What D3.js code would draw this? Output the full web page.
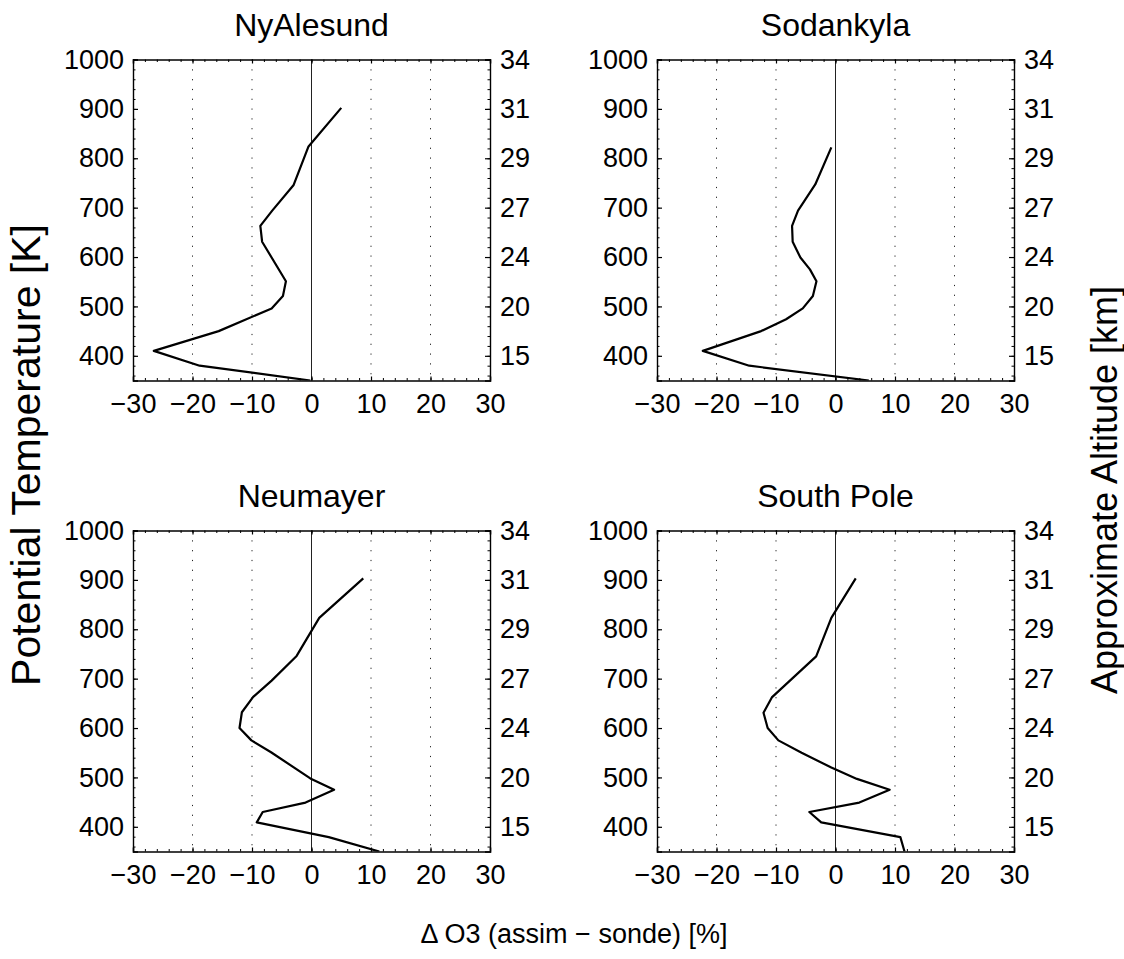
<!DOCTYPE html>
<html>
<head>
<meta charset="utf-8">
<script src="https://cdn.jsdelivr.net/npm/d3@7"></script>
<style>
  html, body { margin: 0; padding: 0; background: #fff; }
  svg { display: block; font-family: "Liberation Sans", Arial, Helvetica, sans-serif; }
</style>
</head>
<body>
<svg id="chart" width="1124" height="959"></svg>
<script>
// Station names, in panel order (row by row)
const stations = ["NyAlesund", "Sodankyla", "Neumayer", "South Pole"];

// Potential temperature levels [K] of each profile
const thetaNyAlesund = [902, 824, 746, 694, 663, 631, 551, 521, 496, 450, 410, 380, 350];
const thetaSodankyla = [822, 747, 694, 663, 631, 599, 575, 551, 521, 496, 474, 450, 410, 380, 350];
const thetaNeumayer  = [903, 823, 746, 696, 663, 632, 600, 575, 551, 498, 475, 449, 430, 409, 379, 350];
const thetaSouthPole = [903, 823, 745, 662, 631, 600, 575, 550, 520, 497, 475, 449, 430, 409, 379, 350];

// Ozone difference, assimilation minus sonde [%]
const dO3NyAlesund = [5.0, -0.5, -3.0, -6.6, -8.6, -8.3, -4.3, -4.8, -6.7, -15.6, -26.5, -18.8, -0.2];
const dO3Sodankyla = [-0.7, -3.4, -6.3, -7.3, -7.2, -5.9, -4.3, -3.2, -3.8, -5.5, -8.3, -12.5, -22.3, -14.5, 5.6];
const dO3Neumayer  = [8.7, 1.3, -2.5, -6.7, -9.8, -11.7, -12.1, -10.1, -6.8, -0.2, 3.8, -1.0, -8.2, -9.2, 2.9, 11.4];
const dO3SouthPole = [3.4, -0.7, -3.25, -10.7, -12.1, -11.4, -9.6, -5.7, -0.7, 3.6, 9.1, 4.0, -4.4, -2.4, 10.9, 11.6];

// Axis ticks
const xTicks = [-30, -20, -10, 0, 10, 20, 30];
const thetaTicks = [400, 500, 600, 700, 800, 900, 1000];
const altitudeLabels = ["15", "20", "24", "27", "29", "31", "34"];

const profiles = [
  { theta: thetaNyAlesund, dO3: dO3NyAlesund },
  { theta: thetaSodankyla, dO3: dO3Sodankyla },
  { theta: thetaNeumayer,  dO3: dO3Neumayer },
  { theta: thetaSouthPole, dO3: dO3SouthPole }
];

const svg = d3.select("#chart");

// Panel layout
const panelW = 357, panelH = 321;
const panelX = [133, 657];
const panelY = [59.5, 530.5];

const x = d3.scaleLinear().domain([-30, 30]).range([0, panelW]);
const y = d3.scaleLinear().domain([350, 1000]).range([panelH, 0]);

const minorX = d3.range(-30, 30.01, 2);
const minorY = d3.range(360, 1000.01, 20);

const tickFont = 27;
const fmt = d3.format("d");

stations.forEach((name, i) => {
  const col = i % 2, row = Math.floor(i / 2);
  const g = svg.append("g")
    .attr("transform", `translate(${panelX[col]},${panelY[row]})`);

  // dotted vertical grid lines
  g.selectAll("line.grid")
    .data(xTicks.filter(v => v !== 0 && Math.abs(v) !== 30))
    .join("line")
    .attr("class", "grid")
    .attr("x1", d => x(d)).attr("x2", d => x(d))
    .attr("y1", 0).attr("y2", panelH)
    .attr("stroke", "#222")
    .attr("stroke-width", 1)
    .attr("stroke-dasharray", "1.2,8.6");

  // zero line
  g.append("line")
    .attr("x1", x(0)).attr("x2", x(0))
    .attr("y1", 0).attr("y2", panelH)
    .attr("stroke", "#222")
    .attr("stroke-width", 1);

  // minor ticks on all four sides
  const minorAxes = [
    d3.axisBottom(x).tickValues(minorX).tickSize(-2.5).tickFormat(""),
    d3.axisTop(x).tickValues(minorX).tickSize(-2.5).tickFormat(""),
    d3.axisLeft(y).tickValues(minorY).tickSize(-2.5).tickFormat(""),
    d3.axisRight(y).tickValues(minorY).tickSize(-2.5).tickFormat("")
  ];
  const minorPos = [`translate(0,${panelH})`, "translate(0,0)", "translate(0,0)", `translate(${panelW},0)`];
  minorAxes.forEach((ax, k) => {
    const a = g.append("g").attr("transform", minorPos[k]).call(ax);
    a.select(".domain").remove();
    a.selectAll("line").attr("stroke", "#000").attr("stroke-width", 1);
  });

  // profile line
  const p = profiles[i];
  const pts = p.theta.map((t, k) => [p.dO3[k], t]);
  const clipId = "clip" + i;
  g.append("clipPath").attr("id", clipId)
    .append("rect").attr("width", panelW).attr("height", panelH);
  g.append("path")
    .datum(pts)
    .attr("clip-path", `url(#${clipId})`)
    .attr("fill", "none")
    .attr("stroke", "#000")
    .attr("stroke-width", 2.2)
    .attr("stroke-linejoin", "round")
    .attr("d", d3.line().x(d => x(d[0])).y(d => y(d[1])));

  // major axes with labels
  const xb = g.append("g").attr("transform", `translate(0,${panelH})`)
    .call(d3.axisBottom(x).tickValues(xTicks).tickSize(-4).tickPadding(13).tickFormat(d3.format("d")));
  const xt = g.append("g")
    .call(d3.axisTop(x).tickValues(xTicks).tickSize(-4).tickFormat(""));
  const yl = g.append("g")
    .call(d3.axisLeft(y).tickValues(thetaTicks).tickSize(-5).tickPadding(9).tickFormat(fmt));
  const yr = g.append("g").attr("transform", `translate(${panelW},0)`)
    .call(d3.axisRight(y).tickValues(thetaTicks).tickSize(-5).tickPadding(10)
      .tickFormat((d, k) => altitudeLabels[k]));

  [xb, xt, yl, yr].forEach(a => {
    a.select(".domain").attr("stroke", "#000").attr("stroke-width", 1.4);
    a.selectAll(".tick line").attr("stroke", "#000").attr("stroke-width", 1.2);
    a.selectAll("text")
      .attr("fill", "#000")
      .style("font-size", tickFont + "px")
      .style("font-family", '"Liberation Sans", Arial, Helvetica, sans-serif');
  });
  xb.selectAll("text").attr("dy", "0.71em");

  // station title
  g.append("text")
    .attr("x", panelW / 2)
    .attr("y", -24)
    .attr("text-anchor", "middle")
    .style("font-size", "32px")
    .text(name);
});

// shared axis labels
svg.append("text")
  .attr("transform", "translate(40,455) rotate(-90)")
  .attr("text-anchor", "middle")
  .style("font-size", "41px")
  .text("Potential Temperature [K]");

svg.append("text")
  .attr("transform", "translate(1117,490) rotate(-90)")
  .attr("text-anchor", "middle")
  .style("font-size", "36px")
  .text("Approximate Altitude [km]");

svg.append("text")
  .attr("x", 574)
  .attr("y", 943)
  .attr("text-anchor", "middle")
  .style("font-size", "27px")
  .text("\u0394 O3 (assim \u2212 sonde) [%]");
</script>
</body>
</html>
